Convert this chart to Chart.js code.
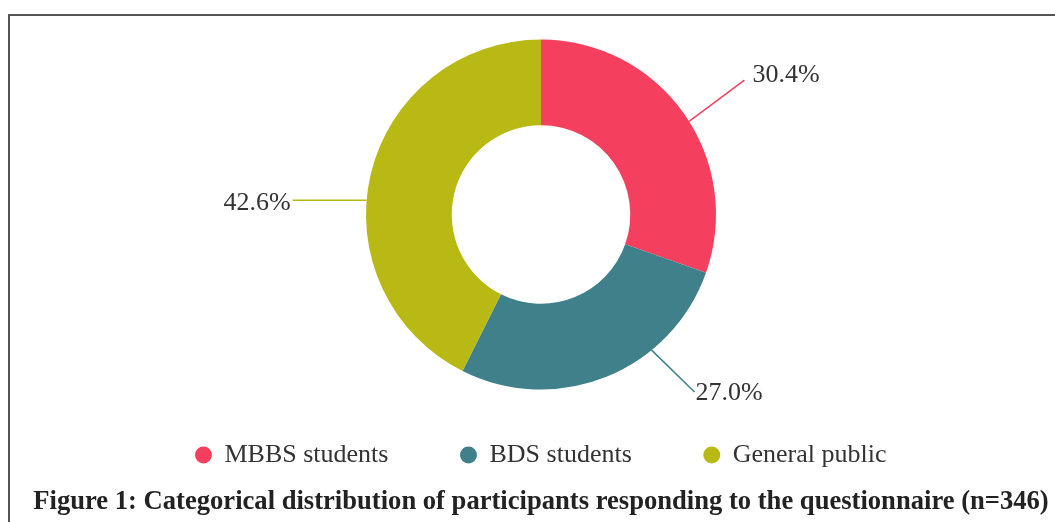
<!DOCTYPE html>
<html>
<head>
<meta charset="utf-8">
<script src="https://cdn.jsdelivr.net/npm/chart.js@4"></script>
<style>
  html, body { margin: 0; padding: 0; background: #fff; overflow: hidden; }
  #frame {
    position: absolute; left: 8px; top: 14px; width: 1100px; height: 560px;
    border-left: 2px solid #555; border-top: 2px solid #555; box-sizing: border-box;
  }
  #wrap { position: absolute; left: 0; top: 0; width: 1055px; height: 522px; }
</style>
</head>
<body>
<div id="frame"></div>
<div id="wrap"><canvas id="chart"></canvas></div>
<script>
const categories = ['MBBS students', 'BDS students', 'General public'];
const shares = [30.4, 27.0, 42.6];
const sliceColors = ['#F43F5E', '#40808A', '#B8B915'];
const titleText = 'Figure 1: Categorical distribution of participants responding to the questionnaire (n=346)';

// where each leader line leaves the ring (deg from 12 o'clock), its direction and length
const leaderLines = [
    {at: 57.8, dir: 53.3, len: 69, align: 'left', tx: 8, ty: -5},
    {at: 140.8, dir: 134.3, len: 60, align: 'left', tx: 1, ty: 1},
    {at: 274.7, dir: 270, len: 74, align: 'right', tx: -2, ty: 2.5}
];

const leaderLabels = {
    id: 'leaderLabels',
    afterDatasetsDraw(chart) {
        const ctx = chart.ctx;
        const meta = chart.getDatasetMeta(0);
        meta.data.forEach((arc, i) => {
            const cfg = leaderLines[i];
            const r = arc.outerRadius;
            const a = cfg.at * Math.PI / 180;
            const sx = arc.x + r * Math.sin(a);
            const sy = arc.y - r * Math.cos(a);
            const d = cfg.dir * Math.PI / 180;
            const ex = sx + cfg.len * Math.sin(d);
            const ey = sy - cfg.len * Math.cos(d);
            ctx.save();
            ctx.strokeStyle = sliceColors[i];
            ctx.lineWidth = 1.5;
            ctx.beginPath();
            ctx.moveTo(sx, sy);
            ctx.lineTo(ex, ey);
            ctx.stroke();
            ctx.fillStyle = '#333';
            ctx.font = '26px "Liberation Serif"';
            ctx.textAlign = cfg.align;
            ctx.textBaseline = 'middle';
            ctx.fillText(shares[i].toFixed(1) + '%', ex + cfg.tx, ey + cfg.ty);
            ctx.restore();
        });
    }
};

new Chart(document.getElementById('chart'), {
    type: 'doughnut',
    data: {
        labels: categories,
        datasets: [{
            data: shares,
            backgroundColor: sliceColors,
            borderWidth: 0,
            hoverOffset: 0
        }]
    },
    options: {
        responsive: true,
        maintainAspectRatio: false,
        animation: false,
        radius: 175,
        cutout: '51%',
        layout: {padding: {top: 59, left: 27, right: 0, bottom: 0}},
        plugins: {
            tooltip: {enabled: false},
            legend: {
                position: 'bottom',
                labels: {
                    usePointStyle: true,
                    pointStyle: 'circle',
                    boxWidth: 16,
                    boxHeight: 12,
                    padding: 72,
                    color: '#333',
                    font: {family: 'Liberation Serif', size: 26}
                }
            },
            title: {
                display: true,
                position: 'bottom',
                text: titleText,
                color: '#222',
                font: {family: 'Liberation Serif', size: 26.6, weight: 'bold'},
                padding: {top: 8, bottom: 4}
            }
        }
    },
    plugins: [leaderLabels]
});
</script>
</body>
</html>
